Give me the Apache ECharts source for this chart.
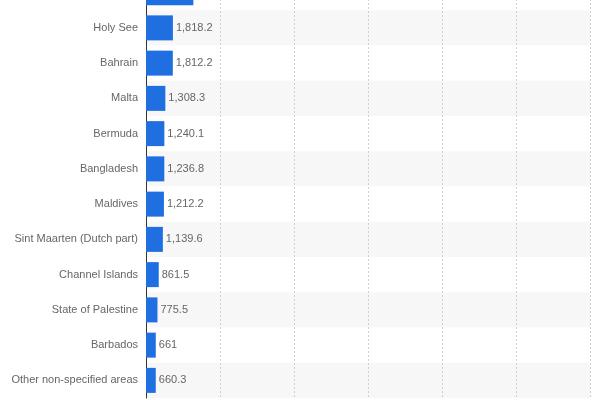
<!DOCTYPE html>
<html>
<head>
<meta charset="utf-8">
<script src="https://cdn.jsdelivr.net/npm/echarts@6/dist/echarts.min.js"></script>
<style>html,body{margin:0;padding:0;background:#fff;overflow:hidden;width:600px;height:400px}#c{width:600px;height:425px;position:absolute;left:0;top:-25px}</style>
</head>
<body>
<div id="c"></div>
<script>
var categories = ["Gibraltar", "Holy See", "Bahrain", "Malta", "Bermuda", "Bangladesh", "Maldives", "Sint Maarten (Dutch part)", "Channel Islands", "State of Palestine", "Barbados", "Other non-specified areas"];
var values = [3200, 1818.2, 1812.2, 1308.3, 1240.1, 1236.8, 1212.2, 1139.6, 861.5, 775.5, 661, 660.3];
var xTicks = { min: 0, max: 30000, interval: 5000 };

var chart = echarts.init(document.getElementById('c'), null, { renderer: 'canvas' });
chart.setOption({
  animation: false,
  grid: { left: 146, right: 10, top: 0, bottom: 2, containLabel: false },
  xAxis: {
    type: 'value', min: xTicks.min, max: xTicks.max, interval: xTicks.interval,
    axisLine: { show: false }, axisTick: { show: false }, axisLabel: { show: false },
    splitLine: { show: true, lineStyle: { color: '#d0d0d0', type: [2, 2], width: 1 } }
  },
  yAxis: {
    type: 'category', data: categories, inverse: true,
    axisLine: { show: true, lineStyle: { color: '#333', width: 1 } },
    axisTick: { show: false },
    axisLabel: { color: '#666', fontSize: 11, fontFamily: 'Liberation Sans, Arial, sans-serif', margin: 8 },
    splitArea: { show: true, areaStyle: { color: ['#ffffff', '#f7f7f7'] } },
    splitLine: { show: false }
  },
  series: [{
    type: 'bar', data: values, barWidth: 25,
    itemStyle: { color: '#1f6fe0' },
    label: {
      show: true, position: 'right', distance: 3, color: '#666', fontSize: 11,
      fontFamily: 'Liberation Sans, Arial, sans-serif',
      formatter: function (p) { return p.value.toLocaleString('en-US', { maximumFractionDigits: 1 }); }
    }
  }]
});
</script>
</body>
</html>
